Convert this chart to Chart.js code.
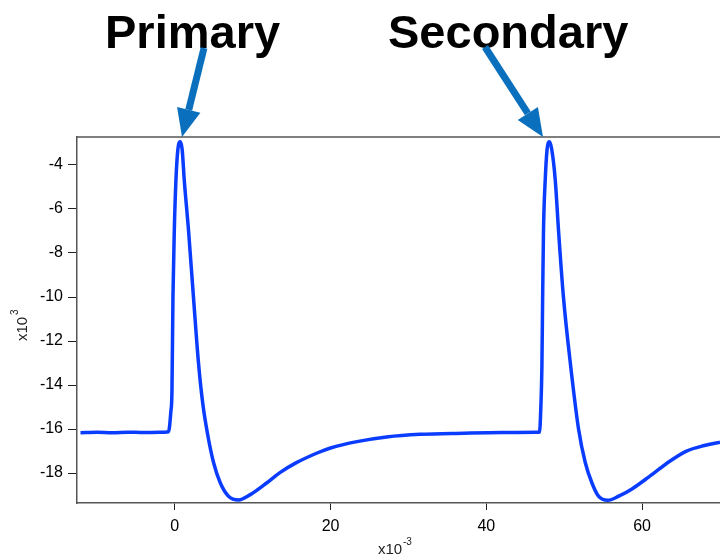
<!DOCTYPE html>
<html>
<head>
<meta charset="utf-8">
<script src="https://cdn.jsdelivr.net/npm/chart.js@4.4.1/dist/chart.umd.min.js"></script>
<style>
  html, body { margin: 0; padding: 0; background: #fff; }
  #wrap { width: 720px; height: 558px; position: relative; }
</style>
</head>
<body>
<div id="wrap"><canvas id="trace"></canvas></div>
<script>
// time in units of 1e-3 (x axis), signal in units of 1e3 (y axis)
const timeMs = [
  -12.1, -10, -8, -6, -4, -2, -0.8,
  -0.5, -0.36, -0.23, -0.06, 0.15, 0.4, 0.7, 0.95, 1.22, 1.77, 2.4, 3.06, 3.6, 4.2, 4.98, 5.84, 6.9,
  8.2, 9.7, 11.84, 13.5, 15.5, 18.2, 20, 23.4, 27.2, 31.5, 37.1, 42, 46.5, 46.83,
  47.0, 47.14, 47.23, 47.34, 47.56, 47.8, 48.1, 48.4, 48.85, 49.27, 49.9, 50.8, 51.84, 52.7, 53.55, 54.4,
  55.6, 57, 58.7, 61.0, 63.6, 65.7, 68, 70
];
const signal = [
  -16.17, -16.15, -16.17, -16.14, -16.16, -16.15, -16.12,
  -15.2, -14.3, -10.0, -7.0, -4.7, -3.3, -2.95, -3.3, -4.69, -6.98, -10.0, -13.05, -14.85, -16.2, -17.52, -18.44, -19.05,
  -19.22, -18.98, -18.44, -17.98, -17.55, -17.1, -16.86, -16.57, -16.36, -16.24, -16.19, -16.16, -16.15, -16.14,
  -15.0, -13.06, -10.0, -6.98, -4.69, -3.3, -2.95, -3.3, -4.69, -6.98, -10.0, -13.05, -16.0, -17.52, -18.44, -19.05,
  -19.24, -19.05, -18.72, -18.14, -17.45, -17.0, -16.75, -16.6
];
const xTicks = [0, 20, 40, 60];
const yTicks = [-18, -16, -14, -12, -10, -8, -6, -4];
const peakLabels = ['Primary', 'Secondary'];

const axisColor = '#555';
const textColor = '#000';
const fontFamily = '"Liberation Sans", Arial, sans-serif';

function drawArrow(ctx, x1, y1, x2, y2) {
  const ang = Math.atan2(y2 - y1, x2 - x1);
  const headLen = 28, headHalf = 12;
  const bx = x2 - headLen * Math.cos(ang), by = y2 - headLen * Math.sin(ang);
  ctx.save();
  ctx.strokeStyle = '#0a70bd';
  ctx.fillStyle = '#0a70bd';
  ctx.lineWidth = 7;
  ctx.beginPath();
  ctx.moveTo(x1, y1);
  ctx.lineTo(bx, by);
  ctx.stroke();
  ctx.beginPath();
  ctx.moveTo(x2, y2);
  ctx.lineTo(bx + headHalf * Math.sin(ang), by - headHalf * Math.cos(ang));
  ctx.lineTo(bx - headHalf * Math.sin(ang), by + headHalf * Math.cos(ang));
  ctx.closePath();
  ctx.fill();
  ctx.restore();
}

const decorations = {
  id: 'decorations',
  afterDraw(chart) {
    const ctx = chart.ctx;
    const area = chart.chartArea;
    ctx.save();
    // top frame line
    ctx.strokeStyle = axisColor;
    ctx.lineWidth = 1.5;
    ctx.beginPath();
    ctx.moveTo(area.left, area.top);
    ctx.lineTo(area.right, area.top);
    ctx.stroke();

    // peak labels
    ctx.fillStyle = '#000';
    ctx.font = 'bold 47px ' + fontFamily;
    ctx.textBaseline = 'alphabetic';
    ctx.textAlign = 'left';
    ctx.fillText(peakLabels[0], 105, 48);
    ctx.fillText(peakLabels[1], 388, 48);

    drawArrow(ctx, 204, 48, 182, area.top);
    drawArrow(ctx, 485, 47, 543, area.top);

    // axis multipliers
    ctx.fillStyle = '#222';
    ctx.font = '15px ' + fontFamily;
    ctx.fillText('x10', 378, 554);
    ctx.font = '10px ' + fontFamily;
    ctx.fillText('-3', 403, 545);

    ctx.translate(27, 341);
    ctx.rotate(-Math.PI / 2);
    ctx.font = '15px ' + fontFamily;
    ctx.fillText('x10', 0, 0);
    ctx.font = '10px ' + fontFamily;
    ctx.fillText('3', 26, -9);
    ctx.restore();
  }
};

new Chart(document.getElementById('trace'), {
  type: 'line',
  data: {
    datasets: [{
      data: timeMs.map((t, i) => ({ x: t, y: signal[i] })),
      borderColor: '#0a3cff',
      borderWidth: 3.5,
      pointRadius: 0,
      fill: false,
      cubicInterpolationMode: 'monotone'
    }]
  },
  options: {
    responsive: true,
    maintainAspectRatio: false,
    animation: false,
    clip: false,
    layout: { padding: { top: 137, right: 0, left: 0, bottom: 0 } },
    plugins: { legend: { display: false }, tooltip: { enabled: false } },
    scales: {
      x: {
        type: 'linear',
        min: -12.55,
        max: 70,
        afterBuildTicks: s => { s.ticks = xTicks.map(v => ({ value: v })); },
        afterFit: s => { s.height = 55; },
        grid: { drawOnChartArea: false, drawTicks: true, tickLength: 7, tickColor: '#222', tickWidth: 1 },
        border: { display: true, color: axisColor, width: 1.5 },
        ticks: { color: textColor, padding: 7, maxRotation: 0, font: { size: 16, family: fontFamily } }
      },
      y: {
        min: -19.36,
        max: -2.73,
        afterBuildTicks: s => { s.ticks = yTicks.map(v => ({ value: v })); },
        afterFit: s => { s.width = 77; },
        grid: { drawOnChartArea: false, drawTicks: true, tickLength: 9, tickColor: '#222', tickWidth: 1 },
        border: { display: true, color: axisColor, width: 1.5 },
        ticks: { color: textColor, padding: 5, font: { size: 16, family: fontFamily } }
      }
    }
  },
  plugins: [decorations]
});
</script>
</body>
</html>
